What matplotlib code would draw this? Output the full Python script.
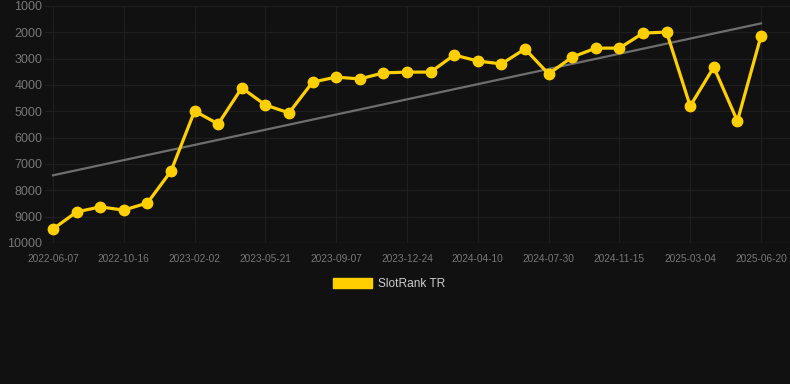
import numpy as np
import matplotlib
matplotlib.use("Agg")
import matplotlib.pyplot as plt
from matplotlib.patches import Patch

plt.rcParams['font.family'] = ['Liberation Sans', 'DejaVu Sans']

# rank values, one per sample date (lower rank number = better)
dates = ["2022-06-07", "", "", "2022-10-16", "", "", "2023-02-02", "", "",
         "2023-05-21", "", "", "2023-09-07", "", "", "2023-12-24", "", "",
         "2024-04-10", "", "", "2024-07-30", "", "", "2024-11-15", "", "",
         "2025-03-04", "", "", "2025-06-20"]
ranks = [9470, 8820, 8630, 8750, 8480, 7270, 4990, 5480, 4110, 4760, 5060,
         3890, 3700, 3770, 3540, 3510, 3510, 2860, 3090, 3200, 2630, 3580,
         2940, 2600, 2600, 2030, 1990, 4800, 3320, 5370, 2140]
yticks = [1000, 2000, 3000, 4000, 5000, 6000, 7000, 8000, 9000, 10000]

bg = "#111111"
gold = "#FFCF00"
grid = "#1e1e1e"

fig = plt.figure(figsize=(7.9, 3.84), dpi=100, facecolor=bg)
ax = fig.add_axes([45 / 790, 141 / 384, 745 / 790, 237 / 384], facecolor=bg)

x = np.arange(len(ranks))

# trend line (least squares)
k, b = np.polyfit(x, ranks, 1)
ax.plot([x[0], x[-1]], [k * x[0] + b, k * x[-1] + b], color="#6e6e6e", lw=1.6, zorder=2)

ax.plot(x, ranks, color=gold, lw=2.3, marker="o", markersize=7.5,
        markerfacecolor=gold, markeredgecolor=gold, zorder=3, clip_on=False)

ax.set_ylim(10000, 1000)
ax.set_yticks(yticks)
ax.set_xlim(-8 / 23.6, 30 + 29 / 23.6)
tick_idx = [i for i, d in enumerate(dates) if d]
ax.set_xticks(tick_idx)
ax.set_xticklabels([dates[i] for i in tick_idx])

ax.grid(True, color=grid, lw=0.9)
ax.axhline(10000, color="#262626", lw=0.9, zorder=1)
ax.set_axisbelow(True)
for s in ax.spines.values():
    s.set_visible(False)
ax.tick_params(axis="y", length=0, pad=2, labelsize=9, labelcolor="#777777")
ax.tick_params(axis="x", length=0, pad=8, labelsize=7.3, labelcolor="#777777")

fig.legend(handles=[Patch(facecolor=gold, edgecolor=gold, label="SlotRank TR")],
           loc="center", bbox_to_anchor=(389 / 790, 1 - 284 / 384), frameon=False,
           handlelength=3.3, handleheight=0.9, handletextpad=0.5,
           fontsize=8.6, labelcolor="#cccccc")

fig.savefig("out.png", dpi=100, facecolor=bg)
